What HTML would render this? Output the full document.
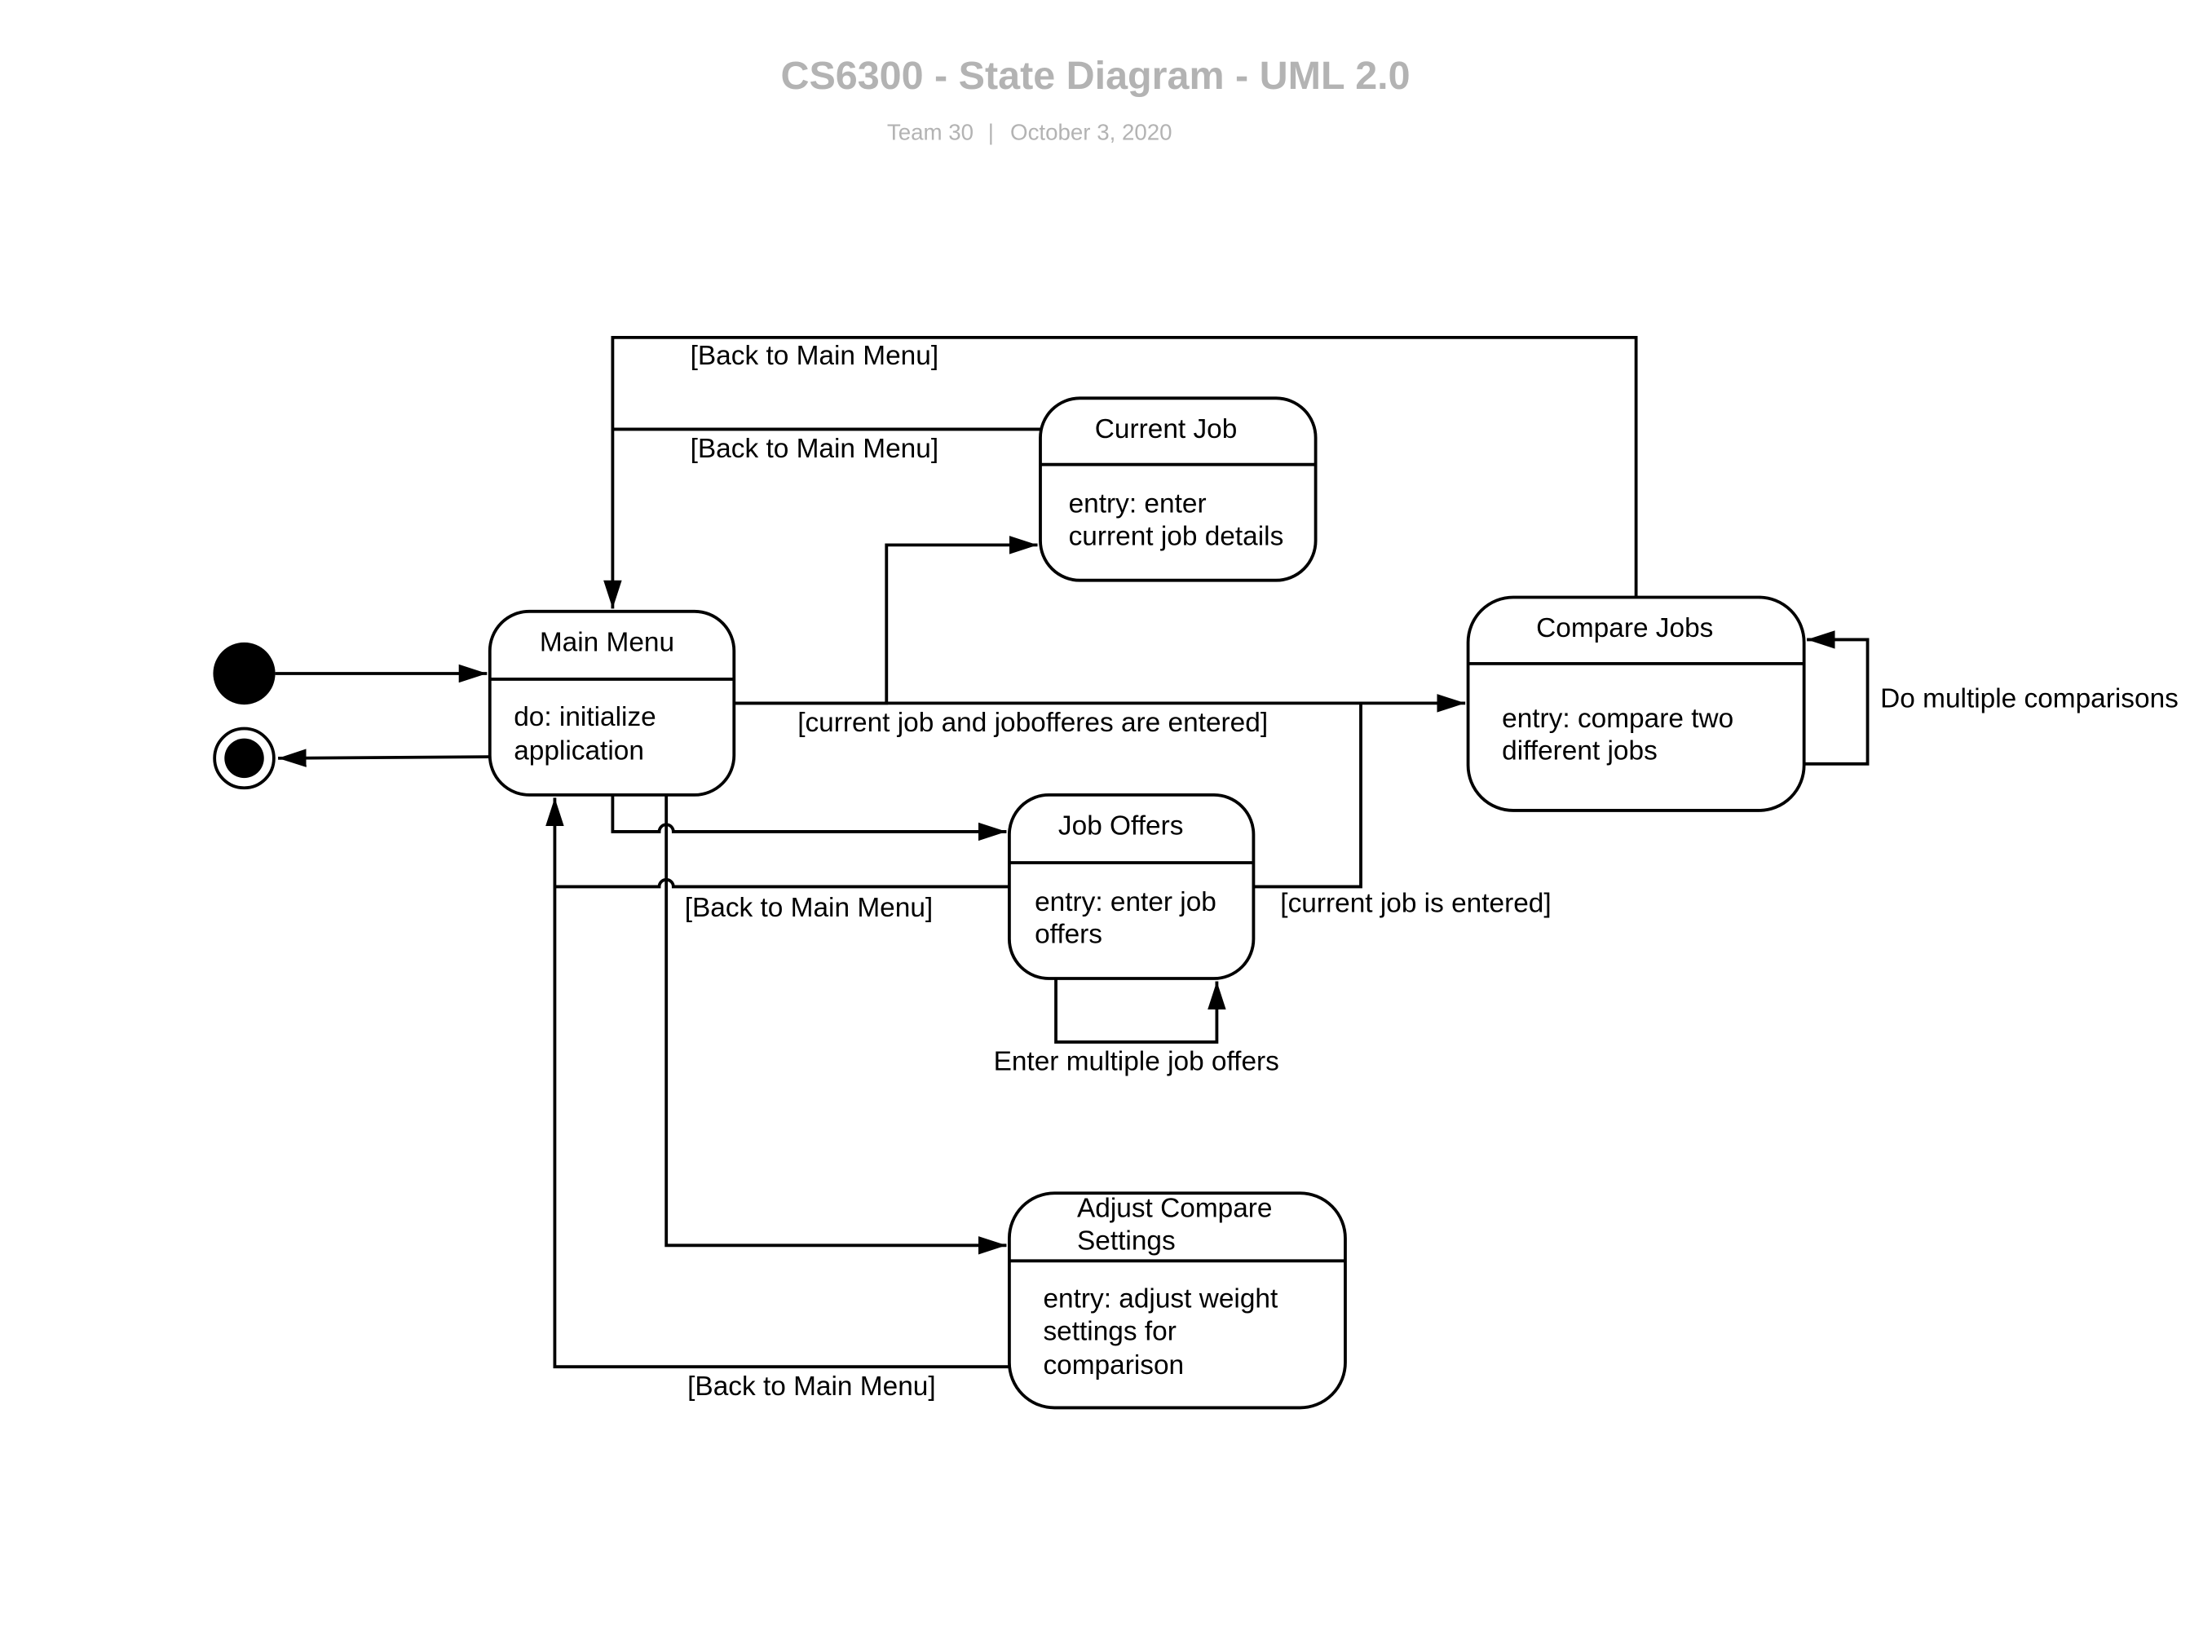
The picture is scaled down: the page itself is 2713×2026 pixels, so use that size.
<!DOCTYPE html>
<html><head><meta charset="utf-8"><style>
html,body{margin:0;padding:0;background:#fff;}
svg{display:block;}
text{font-family:"Liberation Sans",Arial,sans-serif;fill:#000;font-size:19.3px;}
</style></head><body>
<svg width="2713" height="2026" viewBox="0 0 1567 1170" preserveAspectRatio="none" xmlns="http://www.w3.org/2000/svg">
<defs>
<marker id="a" viewBox="0 0 20 13" refX="20" refY="6.5" markerWidth="20" markerHeight="13" markerUnits="userSpaceOnUse" orient="auto">
<path d="M0,0 L20,6.5 L0,13 z" fill="#000"/>
</marker>
</defs>
<rect width="1567" height="1170" fill="#fff"/>
<text x="776" y="63" text-anchor="middle" style="font-size:28px;font-weight:bold;fill:#b3b3b3">CS6300 - State Diagram - UML 2.0</text>
<text x="659" y="99" text-anchor="middle" style="font-size:16px;fill:#b3b3b3">Team 30</text>
<text x="702" y="99" text-anchor="middle" style="font-size:16px;fill:#b3b3b3">|</text>
<text x="773" y="99" text-anchor="middle" style="font-size:16px;fill:#b3b3b3">October 3, 2020</text>

<circle cx="173" cy="477" r="22" fill="#000"/>
<circle cx="173" cy="537" r="21" fill="none" stroke="#000" stroke-width="2.2"/>
<circle cx="173" cy="537" r="14" fill="#000"/>

<g fill="none" stroke="#000" stroke-width="2.2">
<rect x="347" y="433" width="173" height="130" rx="28"/><line x1="347" y1="481" x2="520" y2="481"/>
<rect x="737" y="282" width="195" height="129" rx="28"/><line x1="737" y1="329" x2="932" y2="329"/>
<rect x="1040" y="423" width="238" height="151" rx="32"/><line x1="1040" y1="470" x2="1278" y2="470"/>
<rect x="715" y="563" width="173" height="130" rx="28"/><line x1="715" y1="611" x2="888" y2="611"/>
<rect x="715" y="845" width="238" height="152" rx="32"/><line x1="715" y1="893" x2="953" y2="893"/>

<line x1="195" y1="477" x2="345" y2="477" marker-end="url(#a)"/>
<line x1="347" y1="536" x2="197" y2="537" marker-end="url(#a)"/>

<path d="M1159,423 V239 H434 V431" marker-end="url(#a)"/>
<path d="M737,304 H434"/>
<path d="M520,498 H628 V386 H735" marker-end="url(#a)"/>
<path d="M520,498 H1038" marker-end="url(#a)"/>
<path d="M888,628 H964 V498"/>
<path d="M434,563 V589 H467 A5,5 0 0 1 477,589 H713" marker-end="url(#a)"/>
<path d="M715,628 H477 A5,5 0 0 0 467,628 H393"/>
<path d="M472,563 V882 H713" marker-end="url(#a)"/>
<path d="M715,968 H393 V565" marker-end="url(#a)"/>
<path d="M748,693 V738 H862 V695" marker-end="url(#a)"/>
<path d="M1278,541 H1323 V453 H1280" marker-end="url(#a)"/>
</g>

<text x="430" y="461" text-anchor="middle">Main Menu</text>
<text x="364" y="514">do: initialize</text>
<text x="364" y="538">application</text>

<text x="826" y="310" text-anchor="middle">Current Job</text>
<text x="757" y="363">entry: enter</text>
<text x="757" y="386">current job details</text>

<text x="1151" y="451" text-anchor="middle">Compare Jobs</text>
<text x="1064" y="515">entry: compare two</text>
<text x="1064" y="538">different jobs</text>

<text x="794" y="591" text-anchor="middle">Job Offers</text>
<text x="733" y="645">entry: enter job</text>
<text x="733" y="668">offers</text>

<text x="763" y="862">Adjust Compare</text>
<text x="763" y="885">Settings</text>
<text x="739" y="926">entry: adjust weight</text>
<text x="739" y="949">settings for</text>
<text x="739" y="973">comparison</text>

<text x="489" y="258">[Back to Main Menu]</text>
<text x="489" y="324">[Back to Main Menu]</text>
<text x="565" y="518">[current job and jobofferes are entered]</text>
<text x="907" y="646">[current job is entered]</text>
<text x="485" y="649">[Back to Main Menu]</text>
<text x="487" y="988">[Back to Main Menu]</text>
<text x="805" y="758" text-anchor="middle">Enter multiple job offers</text>
<text x="1332" y="501">Do multiple comparisons</text>
</svg>
</body></html>
